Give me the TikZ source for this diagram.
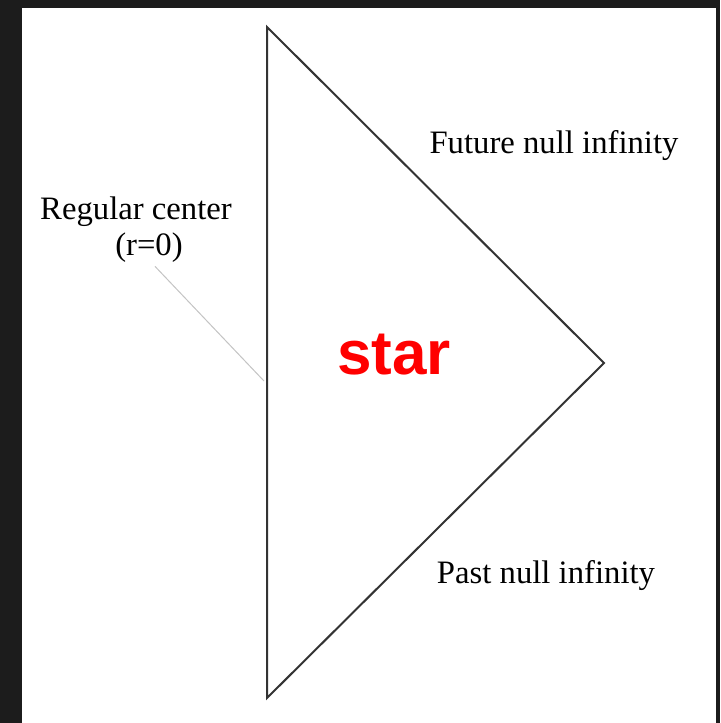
\documentclass[tikz,border=0pt]{standalone}
\usepackage{fontspec}
\setmainfont{Liberation Serif}
\newfontfamily\starfont{Liberation Sans}
\usetikzlibrary{calc}

\definecolor{framebg}{HTML}{1C1C1C}
\definecolor{edgegray}{HTML}{333333}
\definecolor{leadgray}{HTML}{C4C4C4}
\definecolor{starred}{HTML}{FF0000}

\tikzset{
    region/.style={draw=edgegray, line width=1pt, line join=miter},
    lbl/.style={inner sep=0pt, anchor=base, font=\fontsize{16.35pt}{18pt}\selectfont},
    leader/.style={draw=leadgray, line width=0.5pt},
}

\begin{document}
\begin{tikzpicture}[x=0.5pt, y=-0.5pt]
    % frame
    \fill[framebg] (0,0) rectangle (720,723);
    \fill[white] (22,8) rectangle (716,723);
    \useasboundingbox (0,0) rectangle (720,723);

    \coordinate (top) at (267,27);
    \coordinate (bot) at (267,698);
    \coordinate (tip) at (604,363);
    \coordinate (lead) at (264,381);

    \draw[region] (top) -- (tip) -- (bot) -- cycle;

    \node[lbl] (future) at (554,153) {Future null infinity};
    \node[lbl] (past) at (546,583) {Past null infinity};
    \node[lbl] (reg) at (136,219) {Regular center};
    \node[lbl] (rzero) at ($(reg.base)+(13,36)$) {(r=0)};

    \node[inner sep=0pt, anchor=base, text=starred,
          font=\starfont\bfseries\fontsize{31pt}{34pt}\selectfont] (star) at (394,374) {star};

    \draw[leader] ([xshift=3pt, yshift=-2pt]rzero.south) -- (lead);
\end{tikzpicture}
\end{document}
